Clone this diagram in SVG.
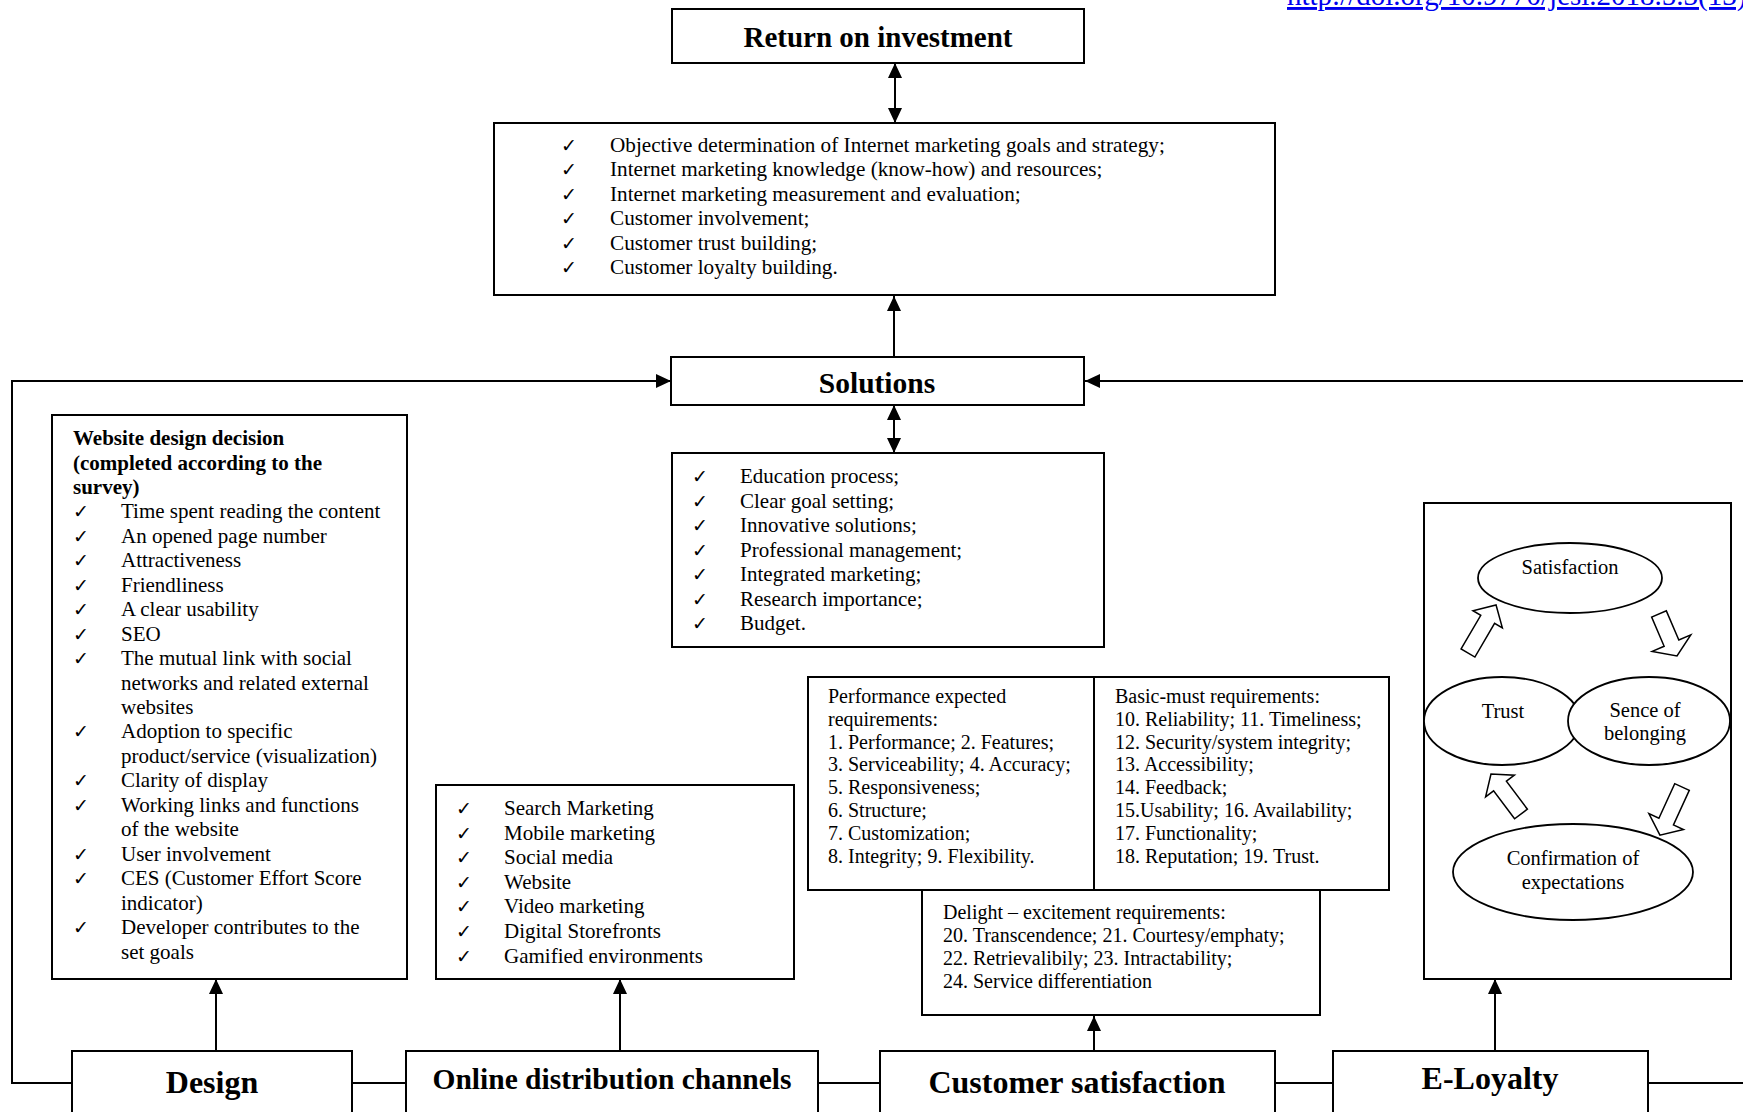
<svg xmlns="http://www.w3.org/2000/svg" width="1743" height="1112" viewBox="0 0 1743 1112">
<style>
.box{fill:#fff;stroke:#000;stroke-width:2}
.ell{fill:#fff;stroke:#000;stroke-width:1.8}
.blk{fill:#fff;stroke:#000;stroke-width:1.5;stroke-linejoin:miter}
.ln{fill:none;stroke:#000;stroke-width:2}
.s{font-family:"Liberation Serif","Times New Roman",serif;fill:#000}
.t21{font-size:21px}
.t20{font-size:20px}
.b{font-weight:bold}
.h{font-size:32px;font-weight:bold;text-anchor:middle}
.c{text-anchor:middle}
.ck{font-family:"DejaVu Sans",sans-serif;font-size:19px;fill:#000}
</style>
<defs>
<marker id="ah" markerUnits="userSpaceOnUse" markerWidth="15" markerHeight="14" refX="15" refY="7" orient="auto-start-reverse">
<path d="M0,0 L15,7 L0,14 Z" fill="#000"/>
</marker>
</defs>

<g id="link">
<text class="s" x="1287" y="5" font-size="29" style="fill:#0000ee" text-decoration="underline">http://doi.org/10.9770/jesi.2018.5.3(13)</text>
</g>

<g id="connectors">
<line class="ln" x1="895" y1="63" x2="895" y2="123" marker-start="url(#ah)" marker-end="url(#ah)"/>
<line class="ln" x1="894" y1="357" x2="894" y2="296" marker-end="url(#ah)"/>
<line class="ln" x1="894" y1="405" x2="894" y2="453" marker-start="url(#ah)" marker-end="url(#ah)"/>
<polyline class="ln" points="72,1083 12,1083 12,381 671,381" marker-end="url(#ah)"/>
<line class="ln" x1="1743" y1="381" x2="1085" y2="381" marker-end="url(#ah)"/>
<line class="ln" x1="216" y1="1051" x2="216" y2="979" marker-end="url(#ah)"/>
<line class="ln" x1="620" y1="1051" x2="620" y2="979" marker-end="url(#ah)"/>
<line class="ln" x1="1094" y1="1051" x2="1094" y2="1016" marker-end="url(#ah)"/>
<line class="ln" x1="1495" y1="1051" x2="1495" y2="979" marker-end="url(#ah)"/>
<line class="ln" x1="352" y1="1083" x2="406" y2="1083"/>
<line class="ln" x1="818" y1="1083" x2="880" y2="1083"/>
<line class="ln" x1="1275" y1="1083" x2="1333" y2="1083"/>
<line class="ln" x1="1648" y1="1083" x2="1743" y2="1083"/>
</g>

<g id="roi">
<rect class="box" x="672" y="9" width="412" height="54"/>
<text class="s h" x="878" y="47" style="font-size:29px">Return on investment</text>
</g>

<g id="factors">
<rect class="box" x="494" y="123" width="781" height="172"/>
<g class="ck">
<text x="561" y="152">✓</text><text x="561" y="176.4">✓</text><text x="561" y="200.8">✓</text><text x="561" y="225.2">✓</text><text x="561" y="249.6">✓</text><text x="561" y="274">✓</text>
</g>
<g class="s" style="font-size:21.2px">
<text x="610" y="152">Objective determination of Internet marketing goals and strategy;</text>
<text x="610" y="176.4">Internet marketing knowledge (know-how) and resources;</text>
<text x="610" y="200.8">Internet marketing measurement and evaluation;</text>
<text x="610" y="225.2">Customer involvement;</text>
<text x="610" y="249.6">Customer trust building;</text>
<text x="610" y="274">Customer loyalty building.</text>
</g>
</g>

<g id="solutions">
<rect class="box" x="671" y="357" width="413" height="48"/>
<text class="s h" x="877" y="393" style="font-size:29.5px">Solutions</text>
</g>

<g id="solutions-list">
<rect class="box" x="672" y="453" width="432" height="194"/>
<g class="ck">
<text x="692" y="483">✓</text><text x="692" y="507.5">✓</text><text x="692" y="532">✓</text><text x="692" y="556.5">✓</text><text x="692" y="581">✓</text><text x="692" y="605.5">✓</text><text x="692" y="630">✓</text>
</g>
<g class="s t21">
<text x="740" y="483">Education process;</text>
<text x="740" y="507.5">Clear goal setting;</text>
<text x="740" y="532">Innovative solutions;</text>
<text x="740" y="556.5">Professional management;</text>
<text x="740" y="581">Integrated marketing;</text>
<text x="740" y="605.5">Research importance;</text>
<text x="740" y="630">Budget.</text>
</g>
</g>

<g id="website-design">
<rect class="box" x="52" y="415" width="355" height="564"/>
<g class="s t21 b">
<text x="73" y="445">Website design decision</text>
<text x="73" y="469.5">(completed according to the</text>
<text x="73" y="494">survey)</text>
</g>
<g class="ck">
<text x="73" y="518.4">✓</text><text x="73" y="542.8">✓</text><text x="73" y="567.3">✓</text><text x="73" y="591.7">✓</text><text x="73" y="616.2">✓</text><text x="73" y="640.6">✓</text><text x="73" y="665">✓</text><text x="73" y="738.4">✓</text><text x="73" y="787.3">✓</text><text x="73" y="811.8">✓</text><text x="73" y="860.7">✓</text><text x="73" y="885.1">✓</text><text x="73" y="934">✓</text>
</g>
<g class="s t21">
<text x="121" y="518.4">Time spent reading the content</text>
<text x="121" y="542.8">An opened page number</text>
<text x="121" y="567.3">Attractiveness</text>
<text x="121" y="591.7">Friendliness</text>
<text x="121" y="616.2">A clear usability</text>
<text x="121" y="640.6">SEO</text>
<text x="121" y="665">The mutual link with social</text>
<text x="121" y="689.5">networks and related external</text>
<text x="121" y="714">websites</text>
<text x="121" y="738.4">Adoption to specific</text>
<text x="121" y="762.9">product/service (visualization)</text>
<text x="121" y="787.3">Clarity of display</text>
<text x="121" y="811.8">Working links and functions</text>
<text x="121" y="836.2">of the website</text>
<text x="121" y="860.7">User involvement</text>
<text x="121" y="885.1">CES (Customer Effort Score</text>
<text x="121" y="909.6">indicator)</text>
<text x="121" y="934">Developer contributes to the</text>
<text x="121" y="958.5">set goals</text>
</g>
</g>

<g id="channels-list">
<rect class="box" x="436" y="785" width="358" height="194"/>
<g class="ck">
<text x="456" y="815">✓</text><text x="456" y="839.6">✓</text><text x="456" y="864.2">✓</text><text x="456" y="888.8">✓</text><text x="456" y="913.4">✓</text><text x="456" y="938">✓</text><text x="456" y="962.6">✓</text>
</g>
<g class="s t21">
<text x="504" y="815">Search Marketing</text>
<text x="504" y="839.6">Mobile marketing</text>
<text x="504" y="864.2">Social media</text>
<text x="504" y="888.8">Website</text>
<text x="504" y="913.4">Video marketing</text>
<text x="504" y="938">Digital Storefronts</text>
<text x="504" y="962.6">Gamified environments</text>
</g>
</g>

<g id="requirements">
<rect class="box" x="808" y="677" width="581" height="213"/>
<line class="ln" x1="1094" y1="677" x2="1094" y2="890"/>
<g class="s t20">
<text x="828" y="703">Performance expected</text>
<text x="828" y="725.8">requirements:</text>
<text x="828" y="748.6">1. Performance; 2. Features;</text>
<text x="828" y="771.4">3. Serviceability; 4. Accuracy;</text>
<text x="828" y="794.2">5. Responsiveness;</text>
<text x="828" y="817">6. Structure;</text>
<text x="828" y="839.8">7. Customization;</text>
<text x="828" y="862.6">8. Integrity; 9. Flexibility.</text>
<text x="1115" y="703">Basic-must requirements:</text>
<text x="1115" y="725.8">10. Reliability; 11. Timeliness;</text>
<text x="1115" y="748.6">12. Security/system integrity;</text>
<text x="1115" y="771.4">13. Accessibility;</text>
<text x="1115" y="794.2">14. Feedback;</text>
<text x="1115" y="817">15.Usability; 16. Availability;</text>
<text x="1115" y="839.8">17. Functionality;</text>
<text x="1115" y="862.6">18. Reputation; 19. Trust.</text>
</g>
</g>

<g id="delight">
<rect class="box" x="922" y="890" width="398" height="125"/>
<g class="s t20">
<text x="943" y="919">Delight – excitement requirements:</text>
<text x="943" y="942">20. Transcendence; 21. Courtesy/emphaty;</text>
<text x="943" y="965">22. Retrievalibily; 23. Intractability;</text>
<text x="943" y="988">24. Service differentiation</text>
</g>
</g>

<g id="loyalty-cycle">
<rect class="box" x="1424" y="503" width="307" height="476"/>
<ellipse class="ell" cx="1570" cy="578" rx="92" ry="35"/>
<text class="s c" x="1570" y="574" style="font-size:20.5px">Satisfaction</text>
<ellipse class="ell" cx="1502" cy="721" rx="78" ry="44"/>
<text class="s c" x="1503" y="718" style="font-size:20.5px">Trust</text>
<ellipse class="ell" cx="1649" cy="721" rx="81" ry="44"/>
<text class="s c" x="1645" y="717" style="font-size:20.5px">Sence of</text>
<text class="s c" x="1645" y="740" style="font-size:20.5px">belonging</text>
<ellipse class="ell" cx="1573" cy="872" rx="120" ry="48"/>
<text class="s c" x="1573" y="865" style="font-size:20.5px">Confirmation of</text>
<text class="s c" x="1573" y="889" style="font-size:20.5px">expectations</text>
<path class="blk" transform="translate(1468,653) rotate(-59.7)" d="M0,-8 L39,-8 L39,-17 L55.6,0 L39,17 L39,8 L0,8 Z"/>
<path class="blk" transform="translate(1659,614) rotate(66.8)" d="M0,-8 L31.7,-8 L31.7,-21 L45.7,0 L31.7,21 L31.7,8 L0,8 Z"/>
<path class="blk" transform="translate(1682,787) rotate(114.6)" d="M0,-8 L38,-8 L38,-19 L53,0 L38,19 L38,8 L0,8 Z"/>
<path class="blk" transform="translate(1521,814) rotate(-126.9)" d="M0,-8 L35,-8 L35,-18 L50,0 L35,18 L35,8 L0,8 Z"/>
</g>

<g id="design">
<rect class="box" x="72" y="1051" width="280" height="80"/>
<text class="s h" x="212" y="1093">Design</text>
</g>
<g id="online-distribution">
<rect class="box" x="406" y="1051" width="412" height="80"/>
<text class="s h" x="612" y="1089" style="font-size:29.5px">Online distribution channels</text>
</g>
<g id="customer-satisfaction">
<rect class="box" x="880" y="1051" width="395" height="80"/>
<text class="s h" x="1077" y="1093">Customer satisfaction</text>
</g>
<g id="e-loyalty">
<rect class="box" x="1333" y="1051" width="315" height="80"/>
<text class="s h" x="1490" y="1089">E-Loyalty</text>
</g>
</svg>
